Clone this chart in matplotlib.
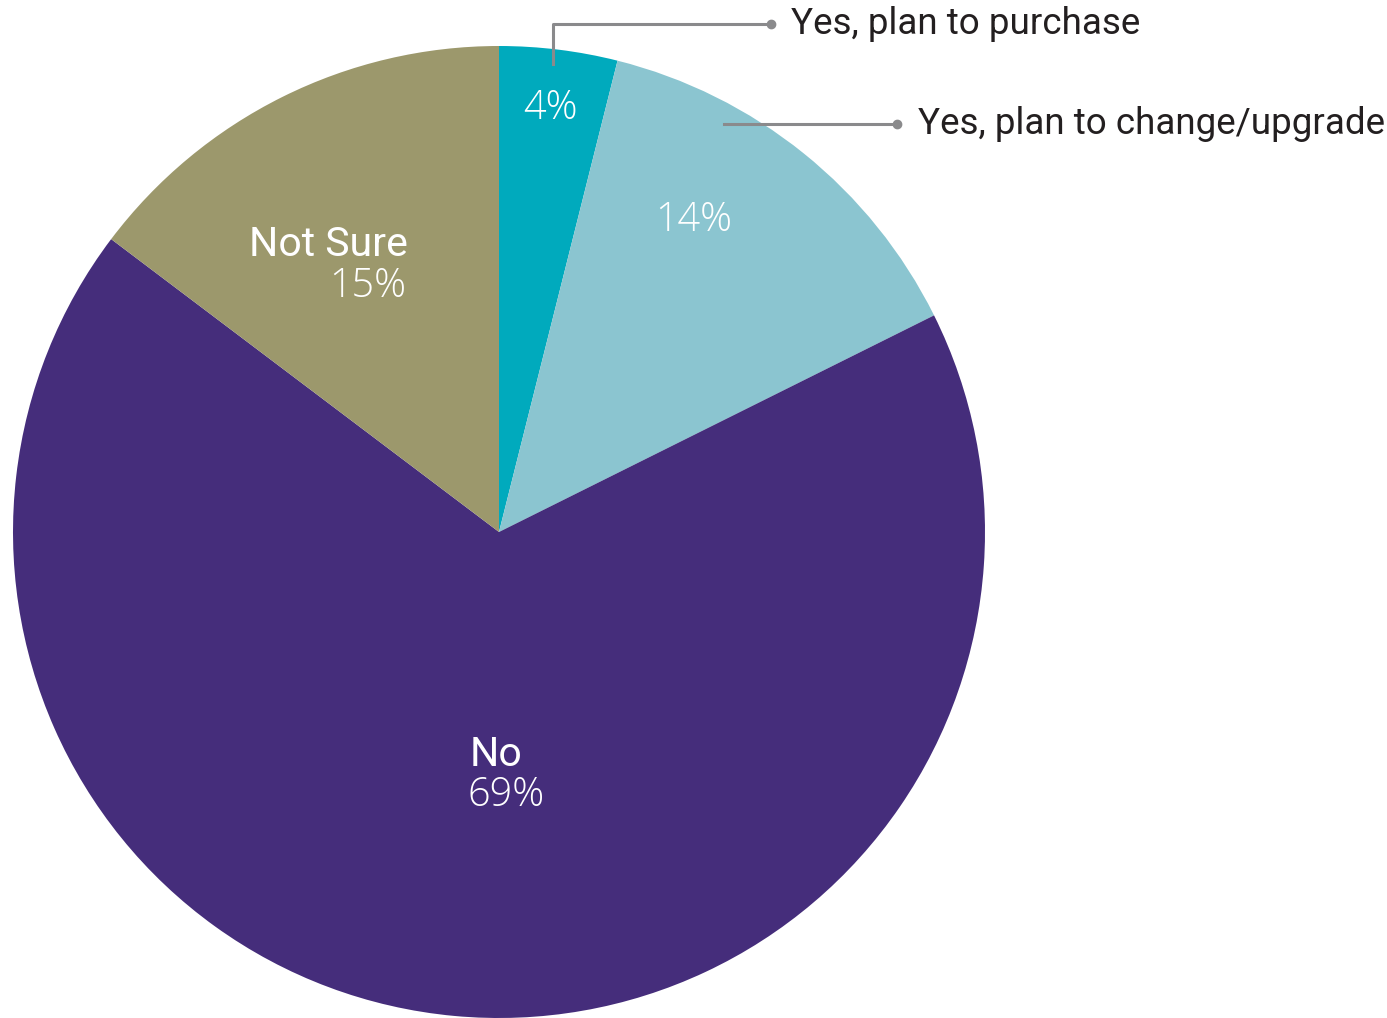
import matplotlib.pyplot as plt

# survey answers, clockwise from the top
labels = ["Yes, plan to purchase", "Yes, plan to change/upgrade", "No", "Not Sure"]
values = [4, 14, 69, 15]
colors = ["#00aabd", "#8bc5d0", "#452d7b", "#9c986c"]

W, H = 1387, 1018
fig = plt.figure(figsize=(W / 100, H / 100), dpi=100)
ax = fig.add_axes([0, 0, 1, 1])

cx, cy, r = 499, H - 532, 486
ax.pie(values, colors=colors, startangle=90, counterclock=False,
       center=(cx, cy), radius=r, frame=True,
       wedgeprops=dict(linewidth=0))
ax.set_xlim(0, W)
ax.set_ylim(0, H)
ax.set_aspect("equal")
ax.axis("off")

font = "Roboto"
pct_font = "Open Sans"
white = "white"
pct_size = 28.5

# labels inside the slices
ax.text(550, H - 108, f"{values[0]}%", color=white, fontsize=pct_size, family=pct_font,
        fontweight="light", ha="center", va="center")
ax.text(694, H - 220, f"{values[1]}%", color=white, fontsize=pct_size, family=pct_font,
        fontweight="light", ha="center", va="center")
ax.text(408, H - 244, labels[3], color=white, fontsize=29.5, family=font,
        ha="right", va="center")
ax.text(406, H - 286, f"{values[3]}%", color=white, fontsize=pct_size, family=pct_font,
        fontweight="light", ha="right", va="center")
ax.text(470, H - 754, labels[2], color=white, fontsize=29.5, family=font,
        ha="left", va="center")
ax.text(468, H - 796, f"{values[2]}%", color=white, fontsize=pct_size, family=pct_font,
        fontweight="light", ha="left", va="center")

# callouts for the two small slices
grey = "#8a8a8c"
ax.plot([553, 553, 771], [H - 64, H - 24, H - 24], color=grey, lw=2.2)
ax.plot([771], [H - 24], "o", color=grey, ms=6)
ax.text(791, H - 24, labels[0], color="#231f20", fontsize=26.5, family=font,
        ha="left", va="center")

ax.plot([724, 897], [H - 124, H - 124], color=grey, lw=2.2)
ax.plot([897], [H - 124], "o", color=grey, ms=6)
ax.text(918, H - 124, labels[1], color="#231f20", fontsize=26.5, family=font,
        ha="left", va="center")

fig.savefig("out.png", dpi=100)
